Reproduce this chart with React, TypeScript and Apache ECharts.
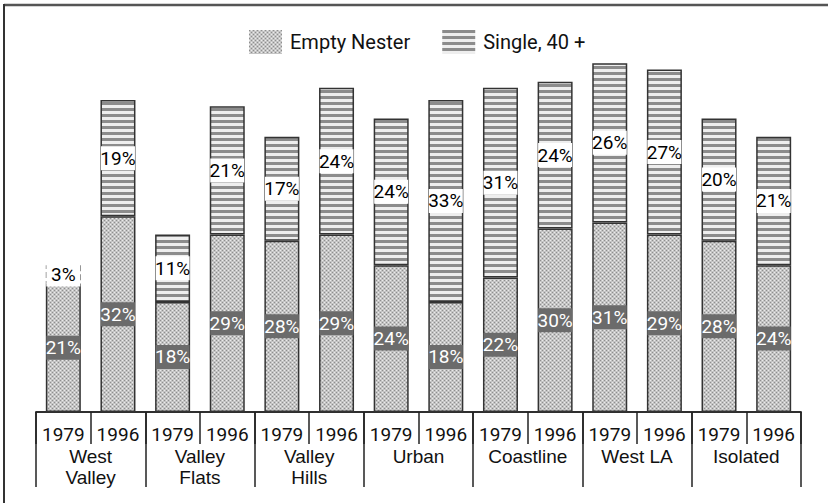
import React, { useEffect, useRef } from "react";
import * as echarts from "echarts";

const years = ["1979", "1996", "1979", "1996", "1979", "1996", "1979", "1996", "1979", "1996", "1979", "1996", "1979", "1996"];
const regions = ["West\nValley", "Valley\nFlats", "Valley\nHills", "Urban", "Coastline", "West LA", "Isolated"];
const emptyNester = [21, 32, 18, 29, 28, 29, 24, 18, 22, 30, 31, 29, 28, 24];
const single40 = [3, 19, 11, 21, 17, 24, 24, 33, 31, 24, 26, 27, 20, 21];

const NARROW = 'Roboto, "Liberation Sans", sans-serif';
const REGULAR = '"Liberation Sans", Arial, sans-serif';

function makeTile(w: number, h: number, draw: (ctx: CanvasRenderingContext2D) => void) {
  const c = document.createElement("canvas");
  c.width = w;
  c.height = h;
  const ctx = c.getContext("2d")!;
  draw(ctx);
  return { image: c.toDataURL(), repeat: "repeat", imageWidth: w, imageHeight: h };
}

export default function App() {
  const ref = useRef<HTMLDivElement>(null);
  useEffect(() => {
    if (!ref.current) return;
    const chart = echarts.init(ref.current, null, { renderer: "svg" });

    const dots = makeTile(4, 4, (ctx) => {
      ctx.fillStyle = "#c4c4c4";
      ctx.fillRect(0, 0, 4, 4);
      ctx.fillStyle = "#8e8e8e";
      ctx.fillRect(0, 0, 1, 1);
      ctx.fillRect(2, 2, 1, 1);
      ctx.fillStyle = "#ebebeb";
      ctx.fillRect(0, 2, 1, 1);
      ctx.fillRect(2, 0, 1, 1);
    });
    const stripes = makeTile(6, 6, (ctx) => {
      ctx.fillStyle = "#eeeeee";
      ctx.fillRect(0, 0, 6, 6);
      ctx.fillStyle = "#8c8c8c";
      ctx.fillRect(0, 0, 6, 3);
    });

    const singleData = single40.map((v, i) =>
      i === 0
        ? { value: v, itemStyle: { color: "#ffffff", borderType: "dashed", borderColor: "#444" } }
        : v
    );

    const labelBase = {
      show: true,
      position: "inside",
      formatter: "{c}%",
      fontFamily: NARROW,
      fontSize: 19,
      width: 34,
      height: 24,
      lineHeight: 24,
      align: "center",
      verticalAlign: "middle",
      padding: 0,
    };

    chart.setOption({
      animation: false,
      backgroundColor: "#ffffff",
      legend: {
        left: 249,
        top: 30,
        padding: 0,
        itemWidth: 33,
        itemHeight: 24,
        itemGap: 32,
        icon: "rect",
        itemStyle: { borderWidth: 0 },
        textStyle: { fontFamily: NARROW, fontSize: 20, color: "#111", padding: [0, 0, 0, 3] },
        data: ["Empty Nester", "Single, 40 +"],
      },
      grid: { left: 36, right: 27, top: 45, bottom: 91 },
      xAxis: [
        {
          type: "category",
          data: years,
          position: "bottom",
          axisLine: { show: true, lineStyle: { color: "#222", width: 1.5 } },
          axisTick: { show: true, length: 32, lineStyle: { color: "#222", width: 1.5 } },
          axisLabel: { interval: 0, margin: 12, fontFamily: NARROW, fontSize: 19, color: "#111", lineHeight: 21 },
        },
        {
          type: "category",
          data: regions,
          position: "bottom",
          axisLine: { show: true, lineStyle: { color: "#222", width: 1.5 } },
          axisTick: { show: true, length: 75, lineStyle: { color: "#222", width: 1.5 } },
          axisLabel: { interval: 0, margin: 34, fontFamily: REGULAR, fontSize: 19, color: "#111", lineHeight: 21 },
        },
      ],
      yAxis: { type: "value", min: 0, max: 60, show: false },
      series: [
        {
          name: "Empty Nester",
          type: "bar",
          stack: "total",
          xAxisIndex: 0,
          barWidth: 35,
          data: emptyNester,
          itemStyle: { color: dots, borderColor: "#333", borderWidth: 1.5 },
          label: { ...labelBase, color: "#ffffff", backgroundColor: "#6b6b6b" },
        },
        {
          name: "Single, 40 +",
          type: "bar",
          stack: "total",
          xAxisIndex: 0,
          barWidth: 35,
          data: singleData,
          itemStyle: { color: stripes, borderColor: "#333", borderWidth: 1.5 },
          label: { ...labelBase, color: "#000000", backgroundColor: "#ffffff" },
        },
      ],
      graphic: [
        { type: "line", shape: { x1: 4, y1: 5, x2: 828, y2: 5 }, style: { stroke: "#555", lineWidth: 2.5 } },
        { type: "line", shape: { x1: 4, y1: 4, x2: 4, y2: 503 }, style: { stroke: "#333", lineWidth: 2 } },
      ],
    });
    return () => chart.dispose();
  }, []);
  return (
    <div
      ref={ref}
      style={{ position: "fixed", left: 0, top: 0, width: 828, height: 503, background: "#fff" }}
    />
  );
}
